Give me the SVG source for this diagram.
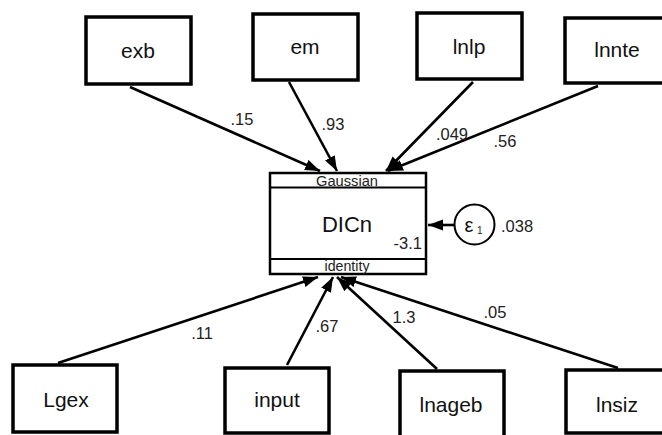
<svg xmlns="http://www.w3.org/2000/svg" width="662" height="435" viewBox="0 0 662 435">
<style>
.box{fill:#fff;stroke:#000;stroke-width:3.5}
.main{fill:#fff;stroke:#000;stroke-width:2.5}
.lbl{font-family:"Liberation Sans",Arial,sans-serif;font-size:21px;fill:#111;text-anchor:middle}
.num{font-family:"Liberation Sans",Arial,sans-serif;font-size:16.5px;fill:#222;text-anchor:middle}
.small{font-family:"Liberation Sans",Arial,sans-serif;font-size:14px;fill:#222;text-anchor:middle}
.edge{stroke:#000;stroke-width:2.6;fill:none;marker-end:url(#ah)}
</style>
<defs>
<marker id="ah" markerUnits="userSpaceOnUse" markerWidth="17" markerHeight="13" refX="15" refY="5.5" orient="auto">
<path d="M0,0 L15,5.5 L0,11 z" fill="#000"/>
</marker>
</defs>
<rect width="662" height="435" fill="#fff"/>
<g id="connectors">
<line class="edge" x1="130" y1="87" x2="320" y2="171"/>
<line class="edge" x1="289" y1="82" x2="337" y2="171"/>
<line class="edge" x1="473" y1="82" x2="386" y2="171"/>
<line class="edge" x1="598" y1="86" x2="388" y2="171"/>
<line class="edge" x1="58" y1="363" x2="318" y2="277"/>
<line class="edge" x1="287" y1="365" x2="333" y2="277"/>
<line class="edge" x1="437" y1="369" x2="337" y2="277"/>
<line class="edge" x1="618" y1="368" x2="341" y2="277"/>
<line class="edge" x1="454" y1="225" x2="428" y2="225"/>
<text class="num" x="242" y="125">.15</text>
<text class="num" x="333" y="130">.93</text>
<text class="num" x="452" y="140">.049</text>
<text class="num" x="505" y="147">.56</text>
<text class="num" x="202" y="339">.11</text>
<text class="num" x="327" y="332">.67</text>
<text class="num" x="404" y="323">1.3</text>
<text class="num" x="495" y="318">.05</text>
</g>
<g id="exb"><rect class="box" x="86" y="17" width="105" height="67"/><text class="lbl" x="138" y="58">exb</text></g>
<g id="em"><rect class="box" x="253" y="14" width="105" height="66"/><text class="lbl" x="305" y="54">em</text></g>
<g id="lnlp"><rect class="box" x="417" y="13" width="105" height="66"/><text class="lbl" x="469" y="54">lnlp</text></g>
<g id="lnnte"><rect class="box" x="565" y="18" width="105" height="65"/><text class="lbl" x="617" y="57">lnnte</text></g>
<g id="DICn">
<rect class="main" x="270" y="173" width="156" height="101"/>
<line x1="270" y1="187.5" x2="426" y2="187.5" stroke="#000" stroke-width="2"/>
<line x1="270" y1="259" x2="426" y2="259" stroke="#000" stroke-width="2"/>
<text class="small" x="347" y="186" textLength="62" lengthAdjust="spacingAndGlyphs">Gaussian</text>
<text class="small" x="347" y="271" textLength="45" lengthAdjust="spacingAndGlyphs">identity</text>
<text class="lbl" x="347" y="232" style="font-size:22px">DICn</text>
<text class="num" x="422" y="249" style="text-anchor:end">-3.1</text>
</g>
<g id="e1">
<circle cx="474.5" cy="224.5" r="20" fill="#fff" stroke="#000" stroke-width="2"/>
<text class="lbl" x="469" y="232" style="font-size:20px">ε</text>
<text class="num" x="477" y="234" style="font-size:10px;text-anchor:start">1</text>
<text class="num" x="501" y="232" style="text-anchor:start">.038</text>
</g>
<g id="Lgex"><rect class="box" x="13" y="365" width="104" height="67"/><text class="lbl" x="66" y="407">Lgex</text></g>
<g id="input"><rect class="box" x="225" y="368" width="104" height="65"/><text class="lbl" x="277" y="407">input</text></g>
<g id="lnageb"><rect class="box" x="400" y="371" width="104" height="70"/><text class="lbl" x="451" y="412">lnageb</text></g>
<g id="lnsiz"><rect class="box" x="566" y="370" width="104" height="63"/><text class="lbl" x="617" y="412">lnsiz</text></g>
</svg>
